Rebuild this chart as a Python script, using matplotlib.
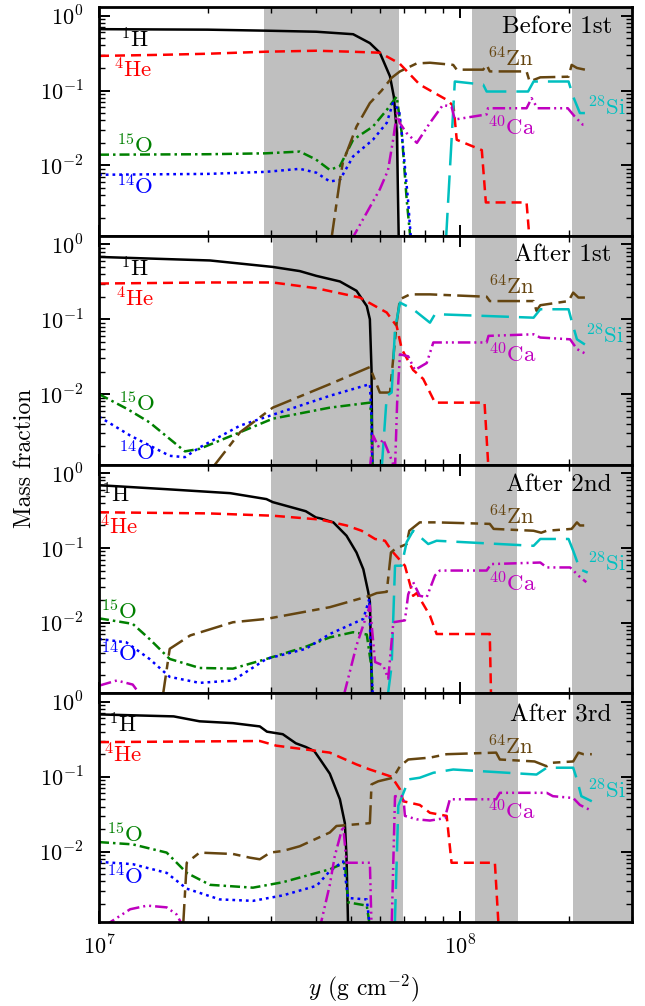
import matplotlib
matplotlib.use('Agg')
import matplotlib.pyplot as plt
from matplotlib.ticker import FixedLocator, FixedFormatter, LogLocator, NullFormatter

plt.rcParams['font.family'] = 'cmr10'
plt.rcParams['mathtext.fontset'] = 'cm'
plt.rcParams['axes.formatter.use_mathtext'] = True

titles = ['Before 1st', 'After 1st', 'After 2nd', 'After 3rd']
species = ['H', 'He', 'O15', 'O14', 'Zn', 'Si', 'Ca']
names = ['$^{1}$H', '$^{4}$He', '$^{15}$O', '$^{14}$O', '$^{64}$Zn', '$^{28}$Si', '$^{40}$Ca']

# grey bands (column depth ranges) per panel
bands1 = [(2.87e7, 6.76e7), (1.08e8, 1.43e8), (2.04e8, 4e8)]
bands2 = [(3.03e7, 6.92e7), (1.10e8, 1.44e8), (2.05e8, 4e8)]
bands3 = [(2.99e7, 6.89e7), (1.10e8, 1.44e8), (2.05e8, 4e8)]
bands4 = [(3.08e7, 6.97e7), (1.10e8, 1.45e8), (2.06e8, 4e8)]

# ---- panel 1: before 1st
p1_H_x = [1e7, 2e7, 2.9e7, 4e7, 5.06e7, 5.63e7, 6.0e7, 6.4e7, 6.56e7, 6.69e7, 6.77e7]
p1_H_y = [0.66, 0.65, 0.63, 0.61, 0.565, 0.43, 0.32, 0.155, 0.083, 0.027, 1e-3]
p1_He_x = [1e7, 1.5e7, 2e7, 2.9e7, 4e7, 5e7, 6e7, 6.8e7, 7.74e7, 9.2e7, 9.6e7, 9.8e7, 1.15e8, 1.18e8, 1.53e8, 1.56e8]
p1_He_y = [0.29, 0.30, 0.31, 0.33, 0.34, 0.33, 0.32, 0.23, 0.12, 0.075, 0.062, 0.022, 0.016, 3.2e-3, 3.2e-3, 1e-3]
p1_O15_x = [1e7, 2e7, 2.9e7, 3.6e7, 3.99e7, 4.36e7, 4.65e7, 5.06e7, 5.74e7, 6.27e7, 6.68e7, 6.9e7, 7.12e7, 7.3e7]
p1_O15_y = [0.0139, 0.0141, 0.0145, 0.0153, 0.012, 0.0087, 0.0098, 0.022, 0.033, 0.055, 0.083, 0.027, 3.5e-3, 1e-3]
p1_O14_x = [1e7, 2e7, 2.9e7, 3.6e7, 4e7, 4.36e7, 4.65e7, 5.06e7, 5.74e7, 6.27e7, 6.52e7, 6.78e7, 6.9e7, 7.18e7, 7.32e7]
p1_O14_y = [0.0075, 0.0077, 0.0082, 0.009, 0.008, 0.0061, 0.0064, 0.0132, 0.022, 0.037, 0.068, 0.055, 0.027, 3.5e-3, 1e-3]
p1_Zn_x = [4.4e7, 4.65e7, 4.74e7, 5.17e7, 5.63e7, 6.07e7, 6.47e7, 6.82e7, 7.59e7, 8.26e7, 9.58e7, 9.8e7, 1.16e8,
           1.186e8, 1.21e8, 1.53e8, 1.56e8, 1.67e8, 2.0e8, 2.04e8, 2.11e8, 2.22e8]
p1_Zn_y = [1e-3, 6.4e-3, 0.011, 0.033, 0.068, 0.10, 0.148, 0.18, 0.23, 0.235, 0.22, 0.19, 0.19,
           0.22, 0.18, 0.18, 0.132, 0.15, 0.153, 0.22, 0.2, 0.19]
p1_Si_x = [9.15e7, 9.68e7, 1.16e8, 1.186e8, 1.545e8, 1.6e8, 2.0e8, 2.06e8, 2.15e8, 2.22e8]
p1_Si_y = [1e-3, 0.132, 0.12, 0.097, 0.097, 0.132, 0.132, 0.083, 0.05, 0.05]
p1_Ca_x = [5.0e7, 6.0e7, 6.32e7, 6.53e7, 6.69e7, 6.81e7, 7.12e7, 7.6e7, 8.26e7, 8.97e7, 9.48e7, 9.68e7,
           1.186e8, 1.196e8, 1.53e8, 1.58e8, 1.64e8, 1.99e8, 2.08e8, 2.19e8, 2.22e8]
p1_Ca_y = [1e-3, 4.8e-3, 8.6e-3, 0.022, 0.05, 0.037, 0.027, 0.02, 0.037, 0.064, 0.061, 0.041,
           0.048, 0.058, 0.058, 0.079, 0.058, 0.058, 0.045, 0.035, 0.035]

# ---- panel 2: after 1st
p2_H_x = [1e7, 2.03e7, 3.03e7, 3.6e7, 4e7, 4.65e7, 5.17e7, 5.52e7, 5.63e7, 5.69e7, 5.72e7]
p2_H_y = [0.68, 0.61, 0.50, 0.44, 0.38, 0.32, 0.24, 0.15, 0.1, 0.021, 1e-3]
p2_He_x = [1e7, 2e7, 3.03e7, 4e7, 5.28e7, 6.27e7, 6.68e7, 6.9e7, 7.42e7, 7.91e7, 8.53e7, 1.17e8, 1.2e8]
p2_He_y = [0.30, 0.31, 0.31, 0.26, 0.195, 0.123, 0.081, 0.04, 0.021, 0.016, 7.7e-3, 7.7e-3, 1e-3]
p2_O15_x = [1e7, 1.2e7, 1.38e7, 1.73e7, 1.9e7, 2.46e7, 3.03e7, 4.36e7, 5.63e7, 5.69e7, 5.72e7]
p2_O15_y = [0.01, 6.3e-3, 4.2e-3, 1.72e-3, 1.86e-3, 3.1e-3, 4.7e-3, 6.6e-3, 7.7e-3, 5e-3, 1e-3]
p2_O14_x = [1e7, 1.22e7, 1.57e7, 1.73e7, 1.9e7, 2.46e7, 3.03e7, 4.36e7, 5.63e7, 5.69e7, 5.72e7]
p2_O14_y = [5.0e-3, 2.8e-3, 1.5e-3, 1.44e-3, 1.94e-3, 3.8e-3, 5.3e-3, 9.5e-3, 0.0136, 5e-3, 1e-3]
p2_Zn_x = [2.05e7, 2.46e7, 3.03e7, 4.36e7, 5.63e7, 6.0e7, 6.4e7, 6.68e7, 6.82e7, 7.27e7, 8.26e7, 1.186e8,
           1.21e8, 1.6e8, 1.63e8, 1.67e8, 2.0e8, 2.06e8, 2.13e8, 2.22e8]
p2_Zn_y = [1e-3, 3.1e-3, 6.6e-3, 0.0136, 0.023, 0.0105, 0.0105, 0.09, 0.185, 0.215, 0.215, 0.2,
           0.175, 0.175, 0.13, 0.154, 0.175, 0.227, 0.195, 0.195]
p2_Si_x = [6.07e7, 6.27e7, 6.47e7, 6.61e7, 6.82e7, 7.42e7, 8.26e7, 8.53e7, 1.6e8, 1.67e8, 2.0e8, 2.04e8, 2.11e8, 2.22e8]
p2_Si_y = [1e-3, 9.5e-3, 0.0105, 0.074, 0.167, 0.136, 0.09, 0.117, 0.105, 0.136, 0.136, 0.095, 0.054, 0.046]
p2_Ca_x = [5.63e7, 5.75e7, 5.94e7, 6.13e7, 6.4e7, 6.61e7, 6.7e7, 6.82e7, 7.19e7, 7.5e7, 8.09e7, 8.44e7,
           1.186e8, 1.2e8, 1.6e8, 1.67e8, 2.02e8, 2.11e8, 2.22e8]
p2_Ca_y = [1e-3, 2.8e-3, 2.0e-3, 2.5e-3, 1.5e-3, 1e-3, 7.7e-3, 0.034, 0.032, 0.021, 0.026, 0.049,
           0.049, 0.06, 0.063, 0.057, 0.054, 0.04, 0.035]

# ---- panel 3: after 2nd
p3_H_x = [1e7, 1.54e7, 2.31e7, 2.91e7, 3.03e7, 3.74e7, 3.99e7, 4.1e7, 4.46e7, 4.85e7, 5.17e7, 5.4e7, 5.57e7, 5.63e7, 5.71e7]
p3_H_y = [0.69, 0.61, 0.54, 0.45, 0.41, 0.31, 0.256, 0.249, 0.22, 0.146, 0.087, 0.052, 0.026, 0.019, 1e-3]
p3_He_x = [1e7, 2e7, 3.03e7, 4.1e7, 4.85e7, 5.34e7, 5.82e7, 6.2e7, 6.47e7, 7.04e7, 7.42e7, 7.59e7, 8.26e7, 8.62e7, 1.21e8, 1.22e8]
p3_He_y = [0.30, 0.29, 0.27, 0.24, 0.2, 0.17, 0.132, 0.125, 0.092, 0.058, 0.023, 0.025, 0.0125, 7.1e-3, 7.1e-3, 1e-3]
p3_O15_x = [1e7, 1.24e7, 1.38e7, 1.57e7, 1.9e7, 2.35e7, 2.91e7, 3.74e7, 4.36e7, 5.06e7, 5.52e7, 5.69e7, 5.74e7]
p3_O15_y = [0.0115, 9.7e-3, 6.1e-3, 3.3e-3, 2.5e-3, 2.45e-3, 3.3e-3, 4.8e-3, 6.4e-3, 7.5e-3, 7e-3, 2.5e-3, 1e-3]
p3_O14_x = [1e7, 1.19e7, 1.38e7, 1.57e7, 1.9e7, 2.35e7, 2.91e7, 3.74e7, 4.36e7, 5.4e7, 5.61e7, 5.66e7, 5.74e7]
p3_O14_y = [6.1e-3, 5.5e-3, 3.3e-3, 1.9e-3, 1.58e-3, 1.7e-3, 3.3e-3, 4.5e-3, 7.1e-3, 0.0113, 0.021, 4e-3, 1e-3]
p3_Zn_x = [1.5e7, 1.57e7, 1.79e7, 2.35e7, 2.91e7, 4.36e7, 5.63e7, 5.88e7, 6.27e7, 6.44e7, 6.61e7, 7.12e7,
           7.24e7, 7.74e7, 8.62e7, 1.21e8, 1.24e8, 1.6e8, 1.68e8, 1.74e8, 2.04e8, 2.11e8, 2.15e8, 2.26e8]
p3_Zn_y = [1e-3, 4.5e-3, 6.8e-3, 0.0102, 0.0113, 0.0162, 0.023, 0.025, 0.026, 0.087, 0.097, 0.113,
           0.17, 0.22, 0.22, 0.21, 0.18, 0.17, 0.16, 0.17, 0.18, 0.22, 0.2, 0.2]
p3_Si_x = [6.3e7, 6.47e7, 6.61e7, 6.89e7, 7.12e7, 7.42e7, 8.17e7, 8.62e7, 1.6e8, 1.67e8, 2.0e8, 2.06e8, 2.15e8, 2.26e8]
p3_Si_y = [1e-3, 2.7e-3, 0.058, 0.058, 0.12, 0.17, 0.113, 0.125, 0.107, 0.132, 0.132, 0.092, 0.052, 0.047]
p3_Ca_x = [1e7, 1.12e7, 1.24e7, 1.32e7, 4.75e7, 5.17e7, 5.63e7, 5.82e7, 6.13e7, 6.33e7, 6.54e7, 7.04e7, 7.19e7,
           7.42e7, 7.74e7, 8.09e7, 8.53e7, 8.8e7, 1.186e8, 1.22e8, 1.67e8, 1.74e8, 2.02e8, 2.15e8, 2.24e8]
p3_Ca_y = [1.45e-3, 1.7e-3, 1.5e-3, 1e-3, 1e-3, 5e-3, 0.017, 3e-3, 2.7e-3, 1.8e-3, 0.0102, 0.0108, 0.024,
           0.035, 0.023, 0.022, 0.043, 0.05, 0.05, 0.061, 0.064, 0.055, 0.055, 0.041, 0.035]

# ---- panel 4: after 3rd
p4_H_x = [1e7, 1.61e7, 1.9e7, 2.35e7, 2.79e7, 2.92e7, 3.23e7, 3.51e7, 3.74e7, 3.95e7, 4.1e7, 4.36e7, 4.65e7, 4.8e7, 4.85e7, 4.9e7]
p4_H_y = [0.68, 0.64, 0.55, 0.52, 0.47, 0.40, 0.37, 0.28, 0.25, 0.22, 0.17, 0.11, 0.05, 0.024, 8.7e-3, 1e-3]
p4_He_x = [1e7, 2.79e7, 3.1e7, 4.36e7, 5.17e7, 5.63e7, 6.47e7, 6.82e7, 6.97e7, 7.74e7, 8.26e7, 9.19e7, 9.48e7, 1.25e8, 1.28e8]
p4_He_y = [0.29, 0.30, 0.26, 0.21, 0.146, 0.125, 0.10, 0.068, 0.047, 0.042, 0.033, 0.030, 7.1e-3, 7.1e-3, 1e-3]
p4_O15_x = [1e7, 1.24e7, 1.54e7, 1.75e7, 2.03e7, 2.67e7, 3.23e7, 4.01e7, 4.36e7, 4.8e7, 4.9e7, 5.52e7, 5.63e7]
p4_O15_y = [0.0134, 0.0125, 9.7e-3, 5.2e-3, 3.6e-3, 3.3e-3, 3.9e-3, 5.2e-3, 5.8e-3, 7.1e-3, 2.1e-3, 1.9e-3, 1e-3]
p4_O14_x = [1e7, 1.24e7, 1.54e7, 1.75e7, 2.16e7, 2.67e7, 3.23e7, 4.01e7, 4.36e7, 4.75e7, 4.9e7, 5.52e7, 5.63e7]
p4_O14_y = [7.3e-3, 6.8e-3, 5.2e-3, 3.2e-3, 2.3e-3, 2.2e-3, 2.6e-3, 3.5e-3, 5.5e-3, 7.4e-3, 2.4e-3, 2.3e-3, 1e-3]
p4_Zn_x = [1.71e7, 1.75e7, 1.9e7, 2.35e7, 2.62e7, 2.79e7, 2.98e7, 3.23e7, 3.6e7, 4.36e7, 4.55e7, 5.63e7, 5.69e7, 5.94e7,
           6.53e7, 6.82e7, 7.19e7, 8.26e7, 9.19e7, 1.26e8, 1.29e8, 1.61e8, 1.74e8, 1.81e8, 2.06e8, 2.13e8, 2.2e8, 2.32e8]
p4_Zn_y = [1e-3, 7.1e-3, 9.7e-3, 9.3e-3, 8.3e-3, 7.9e-3, 9.7e-3, 0.0102, 0.0118, 0.018, 0.022, 0.024, 0.079, 0.087,
           0.097, 0.138, 0.17, 0.18, 0.2, 0.21, 0.17, 0.16, 0.138, 0.154, 0.16, 0.21, 0.2, 0.2]
p4_Si_x = [6.6e7, 6.75e7, 7.04e7, 7.19e7, 7.74e7, 8.44e7, 9.58e7, 1.63e8, 1.74e8, 2.06e8, 2.11e8, 2.17e8, 2.32e8]
p4_Si_y = [1e-3, 0.041, 0.068, 0.092, 0.097, 0.113, 0.125, 0.107, 0.132, 0.132, 0.092, 0.055, 0.047]
p4_Ca_x = [1.03e7, 1.22e7, 1.36e7, 1.54e7, 1.64e7, 1.71e7, 4.1e7, 4.36e7, 4.5e7, 4.7e7, 4.75e7, 4.85e7, 5.63e7, 5.69e7,
           6.47e7, 6.61e7, 6.97e7, 7.04e7, 7.59e7, 8.26e7, 9.08e7, 9.38e7, 1.26e8, 1.29e8, 1.74e8, 1.81e8, 2.06e8, 2.15e8, 2.32e8]
p4_Ca_y = [1e-3, 1.7e-3, 1.9e-3, 1.8e-3, 1.45e-3, 1e-3, 1e-3, 3.6e-3, 8.7e-3, 0.019, 0.022, 7.1e-3, 7.1e-3, 1e-3,
           1e-3, 0.055, 0.055, 0.03, 0.027, 0.026, 0.028, 0.05, 0.05, 0.061, 0.061, 0.055, 0.052, 0.042, 0.035]

panels = [
    (bands1, [(p1_H_x, p1_H_y), (p1_He_x, p1_He_y), (p1_O15_x, p1_O15_y), (p1_O14_x, p1_O14_y),
              (p1_Zn_x, p1_Zn_y), (p1_Si_x, p1_Si_y), (p1_Ca_x, p1_Ca_y)]),
    (bands2, [(p2_H_x, p2_H_y), (p2_He_x, p2_He_y), (p2_O15_x, p2_O15_y), (p2_O14_x, p2_O14_y),
              (p2_Zn_x, p2_Zn_y), (p2_Si_x, p2_Si_y), (p2_Ca_x, p2_Ca_y)]),
    (bands3, [(p3_H_x, p3_H_y), (p3_He_x, p3_He_y), (p3_O15_x, p3_O15_y), (p3_O14_x, p3_O14_y),
              (p3_Zn_x, p3_Zn_y), (p3_Si_x, p3_Si_y), (p3_Ca_x, p3_Ca_y)]),
    (bands4, [(p4_H_x, p4_H_y), (p4_He_x, p4_He_y), (p4_O15_x, p4_O15_y), (p4_O14_x, p4_O14_y),
              (p4_Zn_x, p4_Zn_y), (p4_Si_x, p4_Si_y), (p4_Ca_x, p4_Ca_y)]),
]

colors = {'H': 'k', 'He': '#ff0000', 'O15': '#008000', 'O14': '#0000ff',
          'Zn': '#654510', 'Si': '#00bfbf', 'Ca': '#bf00bf'}
dashes = {'H': (), 'He': (4, 2.4), 'O15': (4, 1.6, 1, 1.6), 'O14': (1.1, 1.6),
          'Zn': (9, 2.5, 3, 2.5), 'Si': (11, 4), 'Ca': (5, 1.6, 0.8, 1.6, 0.8, 1.6)}

# label anchors in axes fraction, one per panel
label_pos = {
    'H':   [(0.039, 0.825), (0.039, 0.822), (0.004, 0.833), (0.017, 0.83)],
    'He':  [(0.026, 0.694), (0.030, 0.691), (0.000, 0.694), (0.008, 0.696)],
    'O15': [(0.032, 0.362), (0.036, 0.233), (0.002, 0.323), (0.013, 0.348)],
    'O14': [(0.032, 0.179), (0.036, 0.017), (0.002, 0.141), (0.013, 0.162)],
    'Zn':  [(0.727, 0.739), (0.730, 0.742), (0.730, 0.738), (0.727, 0.732)],
    'Si':  [(0.915, 0.528), (0.912, 0.531), (0.915, 0.534), (0.915, 0.542)],
    'Ca':  [(0.727, 0.437), (0.730, 0.444), (0.730, 0.447), (0.727, 0.447)],
}
title_y = [0.886, 0.888, 0.883, 0.878]

fig, axes = plt.subplots(4, 1, sharex=True, figsize=(6.45, 10.06), dpi=100)
fig.subplots_adjust(left=0.1535, right=0.98, top=0.993, bottom=0.0835, hspace=0)

for i, (ax, (bands, series)) in enumerate(zip(axes, panels)):
    for lo, hi in bands:
        ax.axvspan(lo, hi, color='#bfbfbf', lw=0, zorder=0)
    for sp, (x, y) in zip(species, series):
        line, = ax.plot(x, y, color=colors[sp], lw=1.8, zorder=2)
        if dashes[sp]:
            line.set_dashes(dashes[sp])
    for sp, name in zip(species, names):
        px, py = label_pos[sp][i]
        ax.text(px, py, name, transform=ax.transAxes, color=colors[sp],
                fontsize=16.5, ha='left', va='baseline', zorder=3)
    ax.text(0.962, title_y[i], titles[i], transform=ax.transAxes,
            fontsize=18, ha='right', va='baseline')

    ax.set_xscale('log')
    ax.set_yscale('log')
    ax.set_xlim(1e7, 3e8)
    ax.set_ylim(10 ** -2.94, 10 ** 0.115)
    ax.yaxis.set_major_locator(FixedLocator([1e-2, 1e-1, 1]))
    ax.yaxis.set_major_formatter(FixedFormatter(['$10^{-2}$', '$10^{-1}$', '$10^{0}$']))
    ax.yaxis.set_minor_locator(LogLocator(base=10, subs=range(2, 10), numticks=20))
    ax.yaxis.set_minor_formatter(NullFormatter())
    ax.xaxis.set_minor_locator(LogLocator(base=10, subs=range(2, 10), numticks=20))
    ax.xaxis.set_minor_formatter(NullFormatter())
    ax.tick_params(which='both', direction='in', top=True, right=True)
    ax.tick_params(which='major', length=8, width=1.4)
    ax.tick_params(which='minor', length=4.5, width=1.0)
    ax.tick_params(axis='y', which='major', labelsize=16, pad=11)
    ax.tick_params(axis='x', which='major', labelsize=16, pad=9)
    for s in ax.spines.values():
        s.set_linewidth(2)

axes[-1].xaxis.set_major_locator(FixedLocator([1e7, 1e8]))
axes[-1].xaxis.set_major_formatter(FixedFormatter(['$10^{7}$', '$10^{8}$']))

fig.text(0.563, 0.011, '$y$ (g cm$^{-2}$)', fontsize=17, ha='center', va='baseline')
fig.text(0.039, 0.544, 'Mass fraction', fontsize=17, ha='center', va='center', rotation=90)

fig.savefig('out.png', dpi=100)
